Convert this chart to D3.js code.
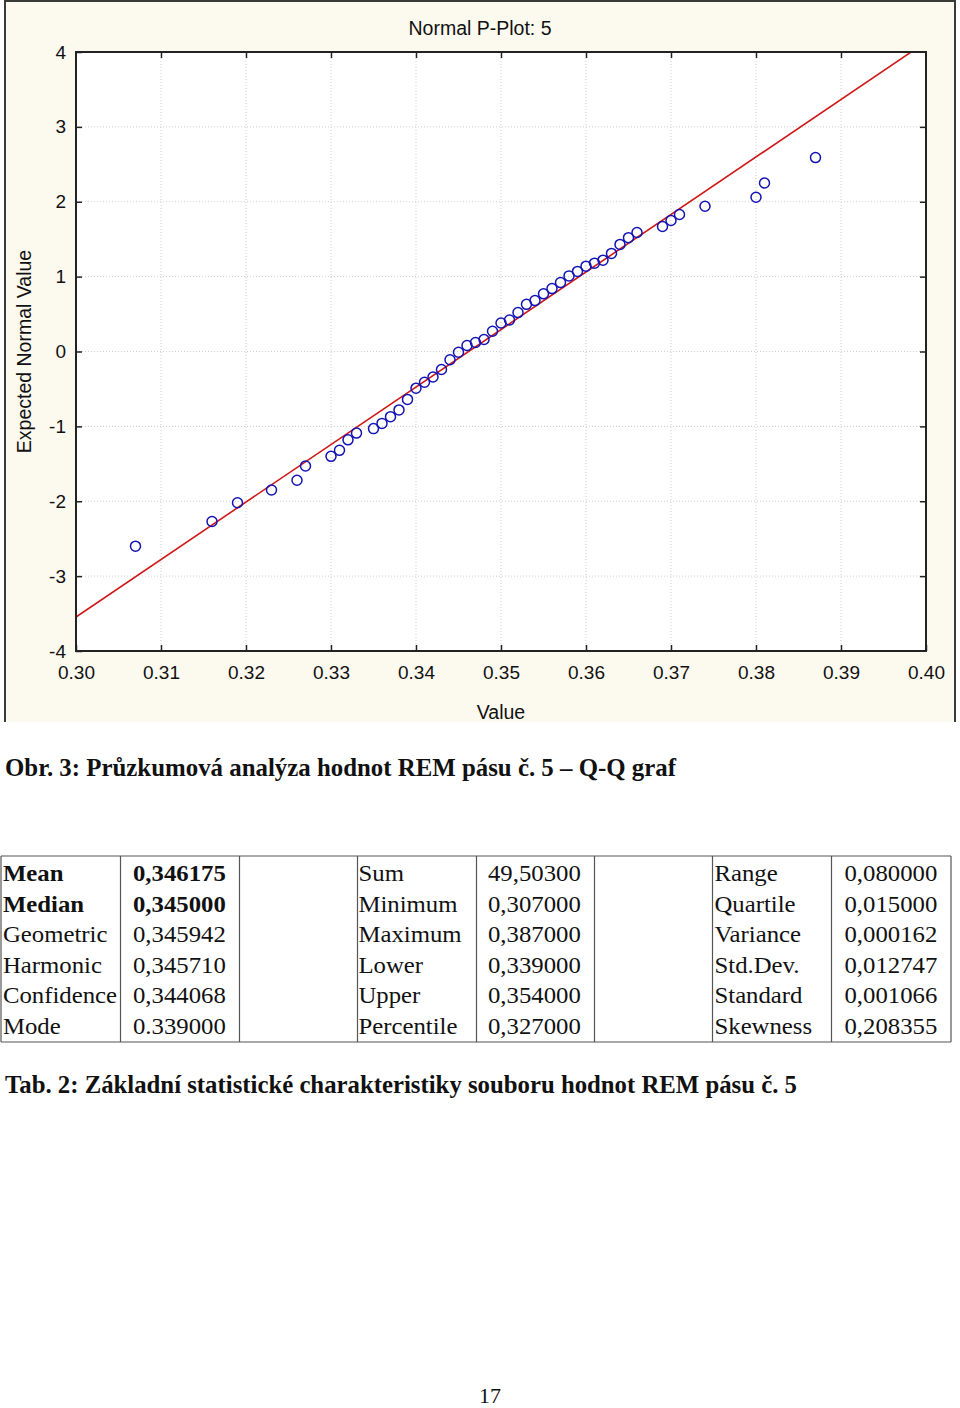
<!DOCTYPE html>
<html>
<head>
<meta charset="utf-8">
<script src="https://cdn.jsdelivr.net/npm/d3@7"></script>
<style>
  html, body { margin: 0; padding: 0; background: #ffffff; }
  svg { display: block; }
</style>
</head>
<body>
<div id="chart"></div>
<script>
// ---------- data ----------
const chartTitle = "Normal P-Plot: 5";
const xTitle = "Value";
const yTitle = "Expected Normal Value";

// observed values (distinct) and their expected normal values
const pointValues = [0.307, 0.316, 0.319, 0.323, 0.326, 0.327, 0.330, 0.331, 0.332, 0.333,
  0.335, 0.336, 0.337, 0.338, 0.339, 0.340, 0.341, 0.342, 0.343, 0.344,
  0.345, 0.346, 0.347, 0.348, 0.349, 0.350, 0.351, 0.352, 0.353, 0.354,
  0.355, 0.356, 0.357, 0.358, 0.359, 0.360, 0.361, 0.362, 0.363, 0.364,
  0.365, 0.366, 0.369, 0.370, 0.371, 0.374, 0.380, 0.381, 0.387];
const pointZ = [-2.60, -2.27, -2.02, -1.85, -1.72, -1.53, -1.40, -1.32, -1.18, -1.09,
  -1.03, -0.96, -0.87, -0.78, -0.64, -0.49, -0.41, -0.34, -0.24, -0.11,
  -0.01, 0.08, 0.12, 0.16, 0.27, 0.38, 0.42, 0.52, 0.63, 0.68,
  0.77, 0.84, 0.92, 1.01, 1.07, 1.14, 1.18, 1.22, 1.31, 1.43,
  1.52, 1.59, 1.67, 1.75, 1.83, 1.94, 2.06, 2.25, 2.59];

// fitted normal line: z = (x - fitMean) / fitSd
const fitMean = 0.346175;
const fitSd = 0.01302;

const xDomain = [0.30, 0.40];
const yDomain = [-4, 4];
const xTicks = [0.30, 0.31, 0.32, 0.33, 0.34, 0.35, 0.36, 0.37, 0.38, 0.39, 0.40];
const yTicks = [-4, -3, -2, -1, 0, 1, 2, 3, 4];

const figCaption = "Obr. 3: Průzkumová analýza hodnot REM pásu č. 5 – Q-Q graf";
const tabCaption = "Tab. 2: Základní statistické charakteristiky souboru hodnot REM pásu č. 5";
const pageNumber = "17";

const tableLabels1 = ["Mean", "Median", "Geometric", "Harmonic", "Confidence", "Mode"];
const tableValues1 = ["0,346175", "0,345000", "0,345942", "0,345710", "0,344068", "0.339000"];
const tableLabels2 = ["Sum", "Minimum", "Maximum", "Lower", "Upper", "Percentile"];
const tableValues2 = ["49,50300", "0,307000", "0,387000", "0,339000", "0,354000", "0,327000"];
const tableLabels3 = ["Range", "Quartile", "Variance", "Std.Dev.", "Standard", "Skewness"];
const tableValues3 = ["0,080000", "0,015000", "0,000162", "0,012747", "0,001066", "0,208355"];
const boldRows = [0, 1]; // bold only in first label/value columns

// ---------- drawing ----------
const W = 960, H = 1408;
const svg = d3.select("#chart").append("svg")
  .attr("width", W).attr("height", H)
  .attr("viewBox", `0 0 ${W} ${H}`);

svg.append("rect").attr("width", W).attr("height", H).attr("fill", "#ffffff");

// chart frame (cream)
const frame = { x0: 5, y0: 1, x1: 955, y1: 722 };
svg.append("rect")
  .attr("x", frame.x0).attr("y", frame.y0)
  .attr("width", frame.x1 - frame.x0).attr("height", frame.y1 - frame.y0)
  .attr("fill", "#fcf9ef");
svg.append("path")
  .attr("d", `M${frame.x0},${frame.y1} V${frame.y0} H${frame.x1} V${frame.y1}`)
  .attr("fill", "none").attr("stroke", "#3a3a3a").attr("stroke-width", 2);

const plot = { left: 76, right: 926, top: 52, bottom: 651 };
const x = d3.scaleLinear().domain(xDomain).range([plot.left, plot.right]);
const y = d3.scaleLinear().domain(yDomain).range([plot.bottom, plot.top]);

svg.append("rect")
  .attr("x", plot.left).attr("y", plot.top)
  .attr("width", plot.right - plot.left).attr("height", plot.bottom - plot.top)
  .attr("fill", "#ffffff");

// grid
const grid = svg.append("g").attr("class", "grid");
grid.selectAll("line.gx").data(xTicks.slice(1, -1)).join("line")
  .attr("x1", d => x(d)).attr("x2", d => x(d))
  .attr("y1", plot.top).attr("y2", plot.bottom)
  .attr("stroke", "#cfcfcf").attr("stroke-width", 1).attr("stroke-dasharray", "1,2");
grid.selectAll("line.gy").data(yTicks.slice(1, -1)).join("line")
  .attr("x1", plot.left).attr("x2", plot.right)
  .attr("y1", d => y(d)).attr("y2", d => y(d))
  .attr("stroke", "#cfcfcf").attr("stroke-width", 1).attr("stroke-dasharray", "1,2");

const tickFont = "'Liberation Sans', Arial, sans-serif";
const fmtX = d3.format(".2f");
const fmtY = d => String(d);

function styleAxis(g) {
  g.select(".domain").remove();
  g.selectAll(".tick line").attr("stroke", "#222").attr("stroke-width", 1.5);
  g.selectAll(".tick text").attr("fill", "#111")
    .style("font-family", tickFont).style("font-size", "19px");
}

svg.append("g").attr("transform", `translate(0,${plot.bottom})`)
  .call(d3.axisBottom(x).tickValues(xTicks).tickFormat(fmtX).tickSize(-6).tickPadding(15))
  .call(styleAxis);
svg.append("g").attr("transform", `translate(0,${plot.top})`)
  .call(d3.axisTop(x).tickValues(xTicks.slice(1, -1)).tickFormat("").tickSize(-6))
  .call(styleAxis);
svg.append("g").attr("transform", `translate(${plot.left},0)`)
  .call(d3.axisLeft(y).tickValues(yTicks).tickFormat(fmtY).tickSize(-6).tickPadding(10))
  .call(styleAxis);
svg.append("g").attr("transform", `translate(${plot.right},0)`)
  .call(d3.axisRight(y).tickValues(yTicks.slice(1, -1)).tickFormat("").tickSize(-6))
  .call(styleAxis);

// clip for line
svg.append("clipPath").attr("id", "plotclip")
  .append("rect").attr("x", plot.left).attr("y", plot.top)
  .attr("width", plot.right - plot.left).attr("height", plot.bottom - plot.top);

const lineXs = xDomain;
const fitLine = d3.line().x(d => x(d)).y(d => y((d - fitMean) / fitSd));
svg.append("path")
  .attr("d", fitLine(lineXs))
  .attr("clip-path", "url(#plotclip)")
  .attr("fill", "none").attr("stroke", "#d01818").attr("stroke-width", 1.6);

// points
const pts = pointValues.map((v, i) => ({ v, z: pointZ[i] }));
svg.append("g").selectAll("circle").data(pts).join("circle")
  .attr("cx", d => x(d.v)).attr("cy", d => y(d.z)).attr("r", 5)
  .attr("fill", "none").attr("stroke", "#1414b4").attr("stroke-width", 1.5);

// plot border
svg.append("rect")
  .attr("x", plot.left).attr("y", plot.top)
  .attr("width", plot.right - plot.left).attr("height", plot.bottom - plot.top)
  .attr("fill", "none").attr("stroke", "#222").attr("stroke-width", 2);

// titles
svg.append("text").text(chartTitle)
  .attr("x", 480).attr("y", 35).attr("text-anchor", "middle")
  .style("font-family", tickFont).style("font-size", "19.5px").attr("fill", "#111");
svg.append("text").text(xTitle)
  .attr("x", (plot.left + plot.right) / 2).attr("y", 719).attr("text-anchor", "middle")
  .style("font-family", tickFont).style("font-size", "19.5px").attr("fill", "#111");
svg.append("text").text(yTitle)
  .attr("transform", `translate(31,${(plot.top + plot.bottom) / 2}) rotate(-90)`)
  .attr("text-anchor", "middle")
  .style("font-family", tickFont).style("font-size", "19.5px").attr("fill", "#111");

// captions
const serif = "'Liberation Serif', 'Times New Roman', serif";
svg.append("text").text(figCaption)
  .attr("x", 5).attr("y", 776)
  .attr("textLength", 671).attr("lengthAdjust", "spacingAndGlyphs")
  .style("font-family", serif).style("font-weight", "bold").style("font-size", "25px").attr("fill", "#111");
svg.append("text").text(tabCaption)
  .attr("x", 5).attr("y", 1093)
  .attr("textLength", 792).attr("lengthAdjust", "spacingAndGlyphs")
  .style("font-family", serif).style("font-weight", "bold").style("font-size", "25px").attr("fill", "#111");
svg.append("text").text(pageNumber)
  .attr("x", 490).attr("y", 1403).attr("text-anchor", "middle")
  .style("font-family", serif).style("font-size", "22px").attr("fill", "#111");

// table
const colX = [1, 120.5, 239.5, 357.5, 476.5, 594.5, 712.5, 831.5, 951];
const tTop = 856, tBottom = 1042;
const rowY0 = 881, rowH = 30.6;
const tbl = svg.append("g");
tbl.append("line").attr("x1", colX[0]).attr("x2", colX[colX.length - 1])
  .attr("y1", tTop).attr("y2", tTop).attr("stroke", "#555").attr("stroke-width", 1.2);
tbl.append("line").attr("x1", colX[0]).attr("x2", colX[colX.length - 1])
  .attr("y1", tBottom).attr("y2", tBottom).attr("stroke", "#555").attr("stroke-width", 1.2);
tbl.selectAll("line.v").data(colX).join("line")
  .attr("x1", d => d).attr("x2", d => d).attr("y1", tTop).attr("y2", tBottom)
  .attr("stroke", "#555").attr("stroke-width", 1.2);

const columns = [
  { col: 0, data: tableLabels1, pad: 2, bold: true },
  { col: 1, data: tableValues1, pad: 12.5, bold: true },
  { col: 3, data: tableLabels2, pad: 1, bold: false },
  { col: 4, data: tableValues2, pad: 11.5, bold: false },
  { col: 6, data: tableLabels3, pad: 2, bold: false },
  { col: 7, data: tableValues3, pad: 13, bold: false }
];
columns.forEach(c => {
  c.data.forEach((t, i) => {
    tbl.append("text").text(t)
      .attr("transform", `translate(${colX[c.col] + c.pad},${rowY0 + i * rowH}) scale(1.1,1)`)
      .style("font-family", serif).style("font-size", "22.5px")
      .style("font-weight", c.bold && boldRows.includes(i) ? "bold" : "normal")
      .attr("fill", "#111");
  });
});
</script>
</body>
</html>
